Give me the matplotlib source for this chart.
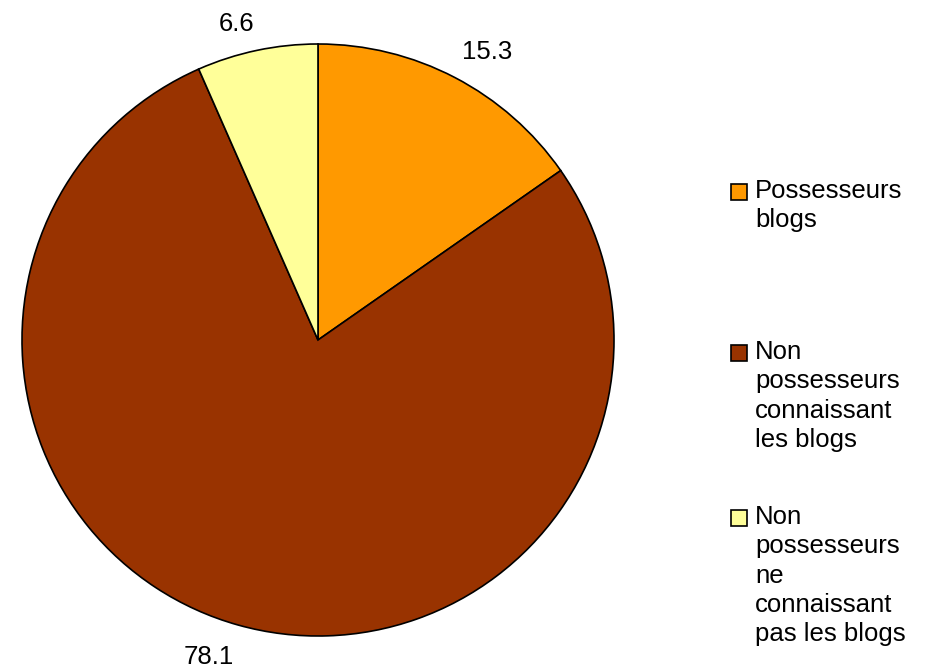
import matplotlib
matplotlib.use("Agg")
import matplotlib.pyplot as plt
from matplotlib.patches import Rectangle

plt.rcParams['font.family'] = ['Liberation Sans', 'DejaVu Sans']

categories = ["Possesseurs\nblogs",
              "Non\npossesseurs\nconnaissant\nles blogs",
              "Non\npossesseurs\nne\nconnaissant\npas les blogs"]
values = [15.3, 78.1, 6.6]
value_labels = ["15.3", "78.1", "6.6"]
colors = ["#FF9900", "#993300", "#FFFF99"]

W, H = 928, 672
fig = plt.figure(figsize=(W / 100, H / 100), dpi=100)
cx, cy, R = 318, 340, 296
ax = fig.add_axes([(cx - R) / W, 1 - (cy + R) / H, 2 * R / W, 2 * R / H])

wedges, texts = ax.pie(values, labels=value_labels, colors=colors, startangle=90,
                       counterclock=False, radius=1.0, labeldistance=1.05,
                       wedgeprops=dict(edgecolor='black', linewidth=1.2),
                       textprops=dict(fontsize=18.5, color='black'))
for t in texts:
    x, y = t.get_position()
    t.set_ha('left' if x > 0 else 'right')
    t.set_va('bottom' if y > 0 else 'top')
    if y < 0:
        t.set_position((x, y - 0.02))
ax.set_xlim(-1, 1)
ax.set_ylim(-1, 1)
ax.set_aspect('equal')
ax.axis('off')

# Legend (manual placement to match the reference layout)
tops = [179, 340, 505]
sq_tops = [184, 345, 510]
for lab, col, ty, sy in zip(categories, colors, tops, sq_tops):
    fig.text(755 / W, 1 - ty / H, lab, fontsize=18.5, ha='left', va='top',
             linespacing=1.28)
    fig.patches.append(Rectangle((731 / W, 1 - (sy + 16) / H), 16 / W, 16 / H,
                                 transform=fig.transFigure, facecolor=col,
                                 edgecolor='black', linewidth=1.2))

fig.savefig("out.png", dpi=100)
